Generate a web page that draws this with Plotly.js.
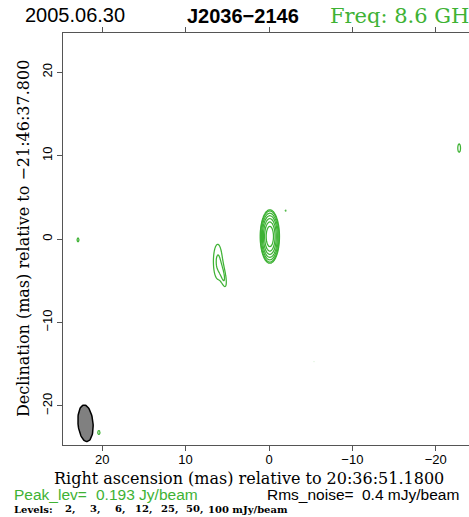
<!DOCTYPE html>
<html>
<head>
<meta charset="utf-8">
<script src="https://cdn.plot.ly/plotly-3.0.1.min.js"></script>
<style>
html,body{margin:0;padding:0;overflow:hidden;background:#fff;}
#chart{width:476px;height:517px;}
</style>
</head>
<body>
<div id="chart"></div>
<script>
// ---- Data ----
// Contour levels (mJy/beam)
const levels = [2, 3, 6, 12, 25, 50, 100];
// Brightness components (mas, mJy/beam, rotation deg)
const compX    = [-0.1, 6.15, 5.4, -1.98, 22.9, -22.8, 20.4, -5.4];
const compY    = [0.3, -2.7, -4.7, 3.4, -0.1, 10.9, -23.2, -14.7];
const compPeak = [193, 3.1, 2.4, 2.15, 2.3, 2.5, 2.3, 2.05];
const compSigX = [0.38, 0.55, 0.28, 0.15, 0.2, 0.25, 0.25, 0.12];
const compSigY = [1.06, 2.2, 1.2, 0.2, 0.45, 0.75, 0.45, 0.15];
const compRot  = [0, 0, 10, 0, 0, 0, 0, 0];
// Restoring beam (FWHM, mas; PA deg)
const beamX = 22.0, beamY = -22.1, beamMaj = 4.4, beamMin = 1.8, beamPA = 5;
const xTicks = [20, 10, 0, -10, -20];
const yTicks = [20, 10, 0, -10, -20];

// ---- Build grid ----
const R = 24.7, step = 0.1;
const gx = [], gy = [];
for (let v = -R; v <= R + 1e-9; v += step) { gx.push(+v.toFixed(3)); gy.push(+v.toFixed(3)); }
const z = gy.map(yy => gx.map(xx => {
  let s = 0;
  for (let k = 0; k < compX.length; k++) {
    const a = compRot[k] * Math.PI / 180;
    const ddx = xx - compX[k], ddy = yy - compY[k];
    const u = ddx*Math.cos(a) - ddy*Math.sin(a);
    const w = ddx*Math.sin(a) + ddy*Math.cos(a);
    const dx = u / compSigX[k], dy = w / compSigY[k];
    const q = dx*dx + dy*dy;
    if (q < 60) s += compPeak[k] * Math.exp(-0.5*q);
  }
  return s;
}));

const green = 'rgb(62,178,52)';
const traces = levels.map(L => ({
  type: 'contour', x: gx, y: gy, z: z,
  autocontour: false,
  contours: {start: L, end: L, size: 1, coloring: 'none'},
  line: {color: green, width: 1.25, smoothing: 1},
  showscale: false, hoverinfo: 'skip'
}));

// beam ellipse
const bx = [], by = [];
const pa = beamPA * Math.PI / 180;
for (let i = 0; i <= 72; i++) {
  const t = i / 72 * 2 * Math.PI;
  const u = beamMin/2 * Math.cos(t), w = beamMaj/2 * Math.sin(t);
  bx.push(beamX + u*Math.cos(pa) + w*Math.sin(pa));
  by.push(beamY - u*Math.sin(pa) + w*Math.cos(pa));
}
traces.push({type:'scatter', mode:'lines', x:bx, y:by, fill:'toself',
  fillcolor:'rgb(128,128,128)', line:{color:'black', width:1.5}, hoverinfo:'skip', showlegend:false});

const axisCommon = {
  showgrid:false, zeroline:false, showline:true, linecolor:'#555', linewidth:1,
  mirror:'ticks', ticks:'outside', ticklen:5, tickcolor:'#555', tickwidth:1,
  tickfont:{family:'Liberation Sans, Arial, sans-serif', size:13, color:'#000'}
};
// pixel helper for annotation placement (plot area starts at 63 px, 412 px wide)
const px = p => (p - 63) / 412;
const ann = (text, xp, yshift, font, extra) => Object.assign({text:text, xref:'paper', yref:'paper', x:px(xp), y:0, yshift:yshift,
  xanchor:'left', yanchor:'middle', showarrow:false, font:font}, extra || {});
const sans = (size, color) => ({family:'Liberation Sans, Arial, sans-serif', size:size, color:color});
const serif = (size, color) => ({family:'DejaVu Serif, serif', size:size, color:color});

const annotations = [
  ann('2005.06.30', 23, 0, sans(20, '#000'), {y:1.0, yshift:18}),
  ann('<b>J2036\u22122146</b>', 185, 0, sans(20, '#000'), {y:1.0, yshift:17}),
  ann('Freq: 8.6 GHz', 328, 0, serif(21, green), {y:1.0, yshift:17}),
  ann('Right ascension (mas) relative to 20:36:51.1800', 52, -33, serif(16, '#000')),
  ann('Declination (mas) relative to \u221221:46:37.800', 23, 0, serif(16, '#000'), {y:0.5, textangle:-90, xanchor:'center'}),
  ann('Peak_lev=', 12, -49, sans(15.5, green)),
  ann('0.193 Jy/beam', 94, -49, sans(15.5, green)),
  ann('Rms_noise=', 265, -49, sans(15.5, '#000')),
  ann('0.4 mJy/beam', 360, -49, sans(15.5, '#000')),
  ann('<b>Levels:</b>', 12, -64, serif(10, '#000'))
];
// level labels (from the levels array)
const levelPx = [63, 88, 113, 133, 159, 184, 206];
levels.forEach((L, i) => {
  const last = i === levels.length - 1;
  annotations.push(ann('<b>' + L + (last ? ' mJy/beam' : ',') + '</b>', levelPx[i], -64, serif(10, '#000')));
});

const layout = {
  width:476, height:517,
  margin:{l:63, r:1, t:33, b:72},
  paper_bgcolor:'#fff', plot_bgcolor:'#fff',
  showlegend:false,
  xaxis: Object.assign({}, axisCommon, {range:[R, -R], tickvals:xTicks, ticktext:xTicks.map(v=>v<0?'\u2212'+(-v):''+v), ticklabelstandoff:-3, title:{text:''}}),
  yaxis: Object.assign({}, axisCommon, {range:[-R, R], tickvals:yTicks, ticktext:yTicks.map(v=>v<0?'\u2212'+(-v):''+v), tickangle:-90, title:{text:''}}),
  annotations: annotations
};
Plotly.newPlot('chart', traces, layout, {displayModeBar:false, staticPlot:true});
</script>
</body>
</html>
